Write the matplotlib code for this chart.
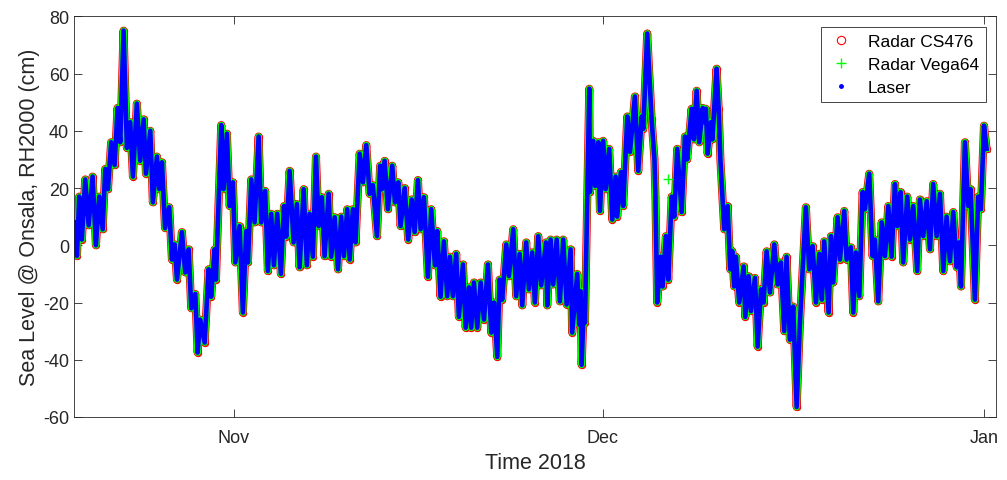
import pandas as pd
import matplotlib
matplotlib.use('Agg')
import matplotlib.pyplot as plt
import matplotlib.dates as mdates
from matplotlib.lines import Line2D

plt.rcParams['font.family'] = ['Liberation Sans', 'DejaVu Sans']
plt.rcParams['axes.unicode_minus'] = False

# tide gauge readings, days counted from 1 Nov 2018
start = pd.Timestamp('2018-11-01')
days = [
    -13.01, -12.76, -12.58, -12.36, -12.09, -11.81, -11.49, -11.22, -10.95, -10.67,
    -10.46, -10.24, -9.98, -9.70, -9.46, -9.24, -8.97, -8.70, -8.43, -8.21,
    -7.89, -7.62, -7.34, -7.15, -6.80, -6.59, -6.26, -6.07, -5.85, -5.60,
    -5.26, -5.04, -4.82, -4.63, -4.23, -3.96, -3.68, -3.47, -3.14, -2.95,
    -2.74, -2.38, -2.06, -1.85, -1.57, -1.46, -1.03, -0.84, -0.57, -0.35,
    -0.08, 0.11, 0.46, 0.73, 1.00, 1.14, 1.41, 1.68, 2.01, 2.22,
    2.54, 2.76, 3.03, 3.25, 3.52, 3.82, 4.07, 4.25, 4.53, 4.85,
    5.12, 5.34, 5.67, 5.93, 6.15, 6.42, 6.67, 6.89, 7.15, 7.37,
    7.70, 7.91, 8.19, 8.46, 8.72, 8.94, 9.21, 9.41, 9.67, 9.89,
    10.22, 10.49, 10.76, 11.03, 11.30, 11.63, 11.89, 12.03, 12.25,
    12.52, 12.87, 13.09, 13.36, 13.55, 13.88, 14.17, 14.45, 14.69, 14.96,
    15.18, 15.45, 15.77, 16.04, 16.34, 16.53, 16.80, 17.07, 17.34, 17.56,
    17.80, 18.07, 18.29, 18.62, 18.84, 19.11, 19.29, 19.51, 19.78, 20.06,
    20.33, 20.65, 20.92, 21.14, 21.41, 21.60, 21.81, 22.14, 22.36, 22.71,
    22.95, 23.23, 23.44, 23.76, 23.98, 24.25, 24.47, 24.74, 24.98,
    25.37, 25.47, 25.75, 25.96, 26.24, 26.50, 26.77, 27.05, 27.37, 27.50,
    27.91, 28.07, 28.19, 28.27, 28.46, 28.54, 28.89, 28.94, 29.21, 29.37,
    29.62, 29.76, 30.02, 30.22, 30.51, 30.76, 31.03, 31.16, 31.46, 31.65,
    31.98, 32.20, 32.60, 32.87, 33.15, 33.28, 33.60, 33.96, 34.19, 34.27,
    34.41, 34.69, 34.85, 35.12, 35.31, 35.59, 35.80, 36.04, 36.40, 36.67,
    36.85, 37.21, 37.40, 37.62,
    37.83, 38.11, 38.24, 38.37, 38.51, 38.78, 38.90, 39.24, 39.41, 39.55,
    39.86, 40.14, 40.35, 40.51, 40.67, 40.81, 41.08, 41.44, 41.57, 41.84,
    42.03, 42.36, 42.58, 42.85, 43.06, 43.31, 43.58, 43.93, 44.20, 44.47,
    44.74, 44.93, 45.20, 45.47, 45.75, 46.02, 46.50, 46.77, 47.05, 47.32,
    47.59, 47.80, 47.99, 48.35, 48.54, 48.72, 49.08, 49.27, 49.62, 49.81,
    50.16, 50.35,
    50.57, 50.84, 51.11, 51.30, 51.65, 51.92, 52.11, 52.38, 52.66, 52.93,
    53.20, 53.47, 53.74, 53.93, 54.20, 54.41, 54.74, 54.96, 55.23, 55.55,
    55.77, 56.04, 56.32, 56.59, 56.85, 57.13, 57.40, 57.67, 57.94, 58.21,
    58.48, 58.76, 58.94, 59.11, 59.43, 59.70, 59.89, 60.24, 60.51, 60.73,
    60.98, 61.19,
]
level = [
    8, -3.7, 17, 2, 23, 7, 24, 0, 17, 5.6,
    26.7, 19.6, 36, 28, 48, 36, 75, 34, 43, 24,
    49.5, 29.5, 44, 25, 40, 15, 31, 19.6, 29, 6,
    13.3, -5, 0.3, -12, 4.6, -9.5, -1.4, -22, -17, -37.5,
    -26, -34, -8.4, -18, -1.4, -12, 42, 19.6, 39, 13.7,
    22, -6, 6.7, -23.5, 5, -6, 23, 8, 38, 8,
    19, -9, 11, -7, 11, -10, 13.7, 3, 26, 1,
    14.4, -7.7, 19.6, -7, 11, -4, 31, 6.7, 16.8, -3.8,
    18, -4, 9.8, -8.4, 10, -3.8, 12.6, -5, 12.6, 1,
    32, 22, 35, 18, 21, 3.2, 27.8, 19.6, 29.5,
    12.6, 27.8, 15, 22, 6.7, 20, 2, 16, 4.6, 22.8,
    5.6, 16.8, -11, 12.6, -7, 5, -18, 1.4, -17.8, -4,
    -17.8, -3, -25, -6.7, -28.8, -14.7, -28.8, -13, -28.8, -13,
    -26, -6.7, -30.5, -20, -39, -12, -19, 0.3, -10.8, 5.6,
    -17.8, -3, -21, 1, -15.4, -2.5, -20, 3.2, -14,
    1, -21, 2, -13.7, 2, -19.6, 2, -20.7, -1.4, -30.5,
    -10, -27.7, -16, -41.8, -19.6, -27, 54.7, 18.6, 36.5, 20.7,
    36, 12, 36.5, 19.6, 33.7, 9, 24, 10, 25.6, 13.7,
    45, 32.6, 52, 26, 45, 40.7, 74, 44, 30, 17,
    -20, -4, -14.4, 3.2, -12, 17, 10, 33.7, 11.6, 38,
    30, 47.7, 37, 54,
    36, 48, 43, 47.7, 32, 43, 37, 61.7, 47.7, 30,
    5.6, 13.7, -8.4, -2, -14.4, -4, -20, -7.4, -25, -10.8,
    -23, -11.4, -35.4, -15.4, -20, -2.1, -16.5, 0.3, -13.7, -6,
    -30, -4, -33, -21.4, -56.5, -26.7, 13.3, -8.4, -0.3, -20,
    -3, -19, 1.4, -23.5, 3.2, -13, 9.8, -5, 12, -5,
    -0.7, -23.5,
    -2.5, -17.8, 18.6, 12.6, 25, -3.8, 2, -19.6, 8, -3.8,
    13.7, -4, 21.4, 6.7, 18.6, -6, 17, 2, 13.7, -9,
    16, 3.2, 15.4, -1.4, 21.4, 3.2, 18, -9, 10, -5.6,
    11.6, -7.7, 1, -14.4, 36, 13.7, 19.6, -19, 17, 12.6,
    41.8, 33.7,
]
# single stray Vega64 reading
vega_extra_day = [35.28]
vega_extra_level = [23]

t = start + pd.to_timedelta(days, unit='D')
t_extra = start + pd.to_timedelta(vega_extra_day, unit='D')

fig = plt.figure(figsize=(10.07, 4.81), dpi=100)
ax = fig.add_axes([0.0735, 0.131, 0.9156, 0.833])

ax.plot(t, level, color='red', lw=5.8, solid_joinstyle='round',
        marker='o', ms=4.5, mfc='none', mec='red', mew=0.8)
ax.plot(t, level, color='#00ff00', lw=4.8, solid_joinstyle='round')
ax.plot(t_extra, vega_extra_level, ls='none', marker='+', color='#00ff00', ms=7, mew=1)
ax.plot(t, level, color='blue', lw=3.3, solid_joinstyle='round')

ax.set_xlim(pd.Timestamp('2018-10-19'), pd.Timestamp('2019-01-01 23:00'))
ax.set_ylim(-60, 80)
ax.set_yticks(range(-60, 81, 20))
ax.xaxis.set_major_locator(mdates.MonthLocator())
ax.xaxis.set_major_formatter(mdates.DateFormatter('%b'))

dark = '#262626'
for s in ax.spines.values():
    s.set_color(dark)
    s.set_linewidth(0.6)
ax.tick_params(direction='in', top=True, right=True, length=6, width=0.6,
               colors=dark, labelsize=13)
ax.tick_params(axis='x', pad=9)
ax.set_xlabel('Time 2018', fontsize=15.5, color=dark, labelpad=4)
ax.set_ylabel('Sea Level @ Onsala, RH2000 (cm)', fontsize=15.5, color=dark, labelpad=2)

handles = [
    Line2D([], [], ls='none', marker='o', mfc='none', mec='red', ms=6, mew=0.8),
    Line2D([], [], ls='none', marker='+', color='#00ff00', ms=7, mew=1),
    Line2D([], [], ls='none', marker='.', color='blue', ms=5),
]
leg = ax.legend(handles, ['Radar CS476', 'Radar Vega64', 'Laser'], loc='upper right',
                fontsize=12.5, fancybox=False, framealpha=1, edgecolor=dark,
                handlelength=1.5, borderaxespad=0.6, labelspacing=0.45)
leg.get_frame().set_linewidth(0.6)

fig.savefig('out.png', dpi=100)
